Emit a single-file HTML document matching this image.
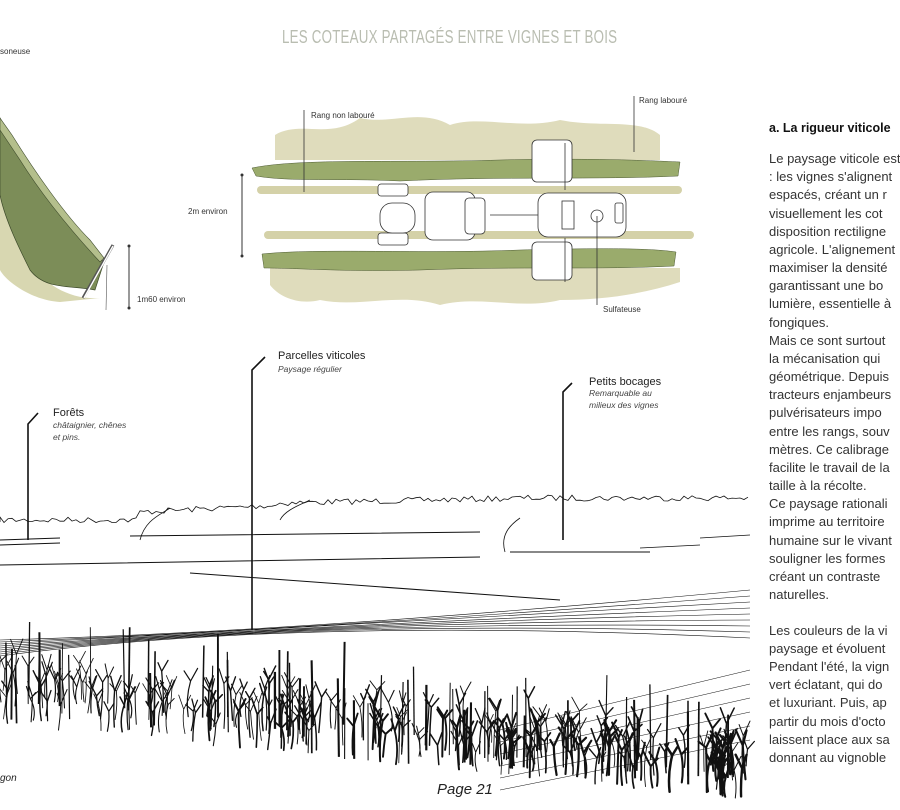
<!DOCTYPE html>
<html><head><meta charset="utf-8">
<style>
html,body{margin:0;padding:0;background:#fff;width:900px;height:810px;overflow:hidden;position:relative;font-family:"Liberation Sans",sans-serif}
.t{position:absolute;white-space:nowrap}
#txt{position:absolute;left:769px;top:0;width:131px;height:810px;overflow:hidden}
#txt div{position:absolute;left:0;font-size:13px;color:#333;white-space:nowrap}
.lab{font-size:8px;color:#333}
#landwrap{position:absolute;left:0;top:0;width:900px;height:810px}
</style></head><body>
<svg width="900" height="810" style="position:absolute;left:0;top:0">
<path d="M0,150 C10,190 20,230 30,262 C45,285 70,300 100,298 L60,302 C30,300 5,280 0,270Z" fill="#d8d7b1"/>
<path d="M0,118 L10,135 C30,170 60,215 85,245 L104,262 L95,290 C70,285 45,290 30,270 C20,250 5,220 0,195Z" fill="#7c8d58" stroke="#3d4a2a" stroke-width="0.7"/>
<path d="M0,118 L12,135 C35,172 65,215 90,240 L104,258 L100,262 C75,235 45,200 20,160 L0,130Z" fill="#b4bf8c" stroke="#3d4a2a" stroke-width="0.6"/>
<line x1="83" y1="298" x2="113" y2="245" stroke="#555" stroke-width="3"/>
<line x1="84" y1="298" x2="113" y2="246" stroke="#fff" stroke-width="1.4"/>
<line x1="107" y1="265" x2="106" y2="310" stroke="#555" stroke-width="0.6"/>
<line x1="129" y1="246" x2="129" y2="308" stroke="#333" stroke-width="1"/>
<circle cx="129" cy="246" r="1.5" fill="#333"/><circle cx="129" cy="308" r="1.5" fill="#333"/>
<path d="M275,135 C300,120 330,140 360,118 C390,125 420,108 450,125 C480,115 520,130 560,120 C600,128 640,118 660,135 L660,160 L275,160Z" fill="#dfdcbc"/>
<path d="M270,268 L680,268 L680,282 C640,295 600,300 560,300 C520,310 480,295 440,305 C400,292 360,308 320,300 C300,305 280,298 270,285Z" fill="#dfdcbc"/>
<path d="M252,168 C300,158 400,163 500,160 C580,158 640,160 680,162 L678,176 C600,180 500,176 400,181 C340,178 290,182 256,176Z" fill="#9aab6c" stroke="#4e5b35" stroke-width="0.5"/>
<path d="M262,254 C320,248 420,254 520,250 C600,248 650,248 676,252 L674,266 C600,270 520,266 420,270 C340,272 300,268 264,268Z" fill="#9aab6c" stroke="#4e5b35" stroke-width="0.5"/>
<rect x="257" y="186" width="425" height="8" rx="4" fill="#d4d1a8"/>
<rect x="264" y="231" width="430" height="8" rx="4" fill="#d4d1a8"/>
<g fill="#fff" stroke="#333" stroke-width="0.8">
<rect x="378" y="184" width="30" height="12" rx="3"/><rect x="378" y="233" width="30" height="12" rx="3"/>
<rect x="380" y="203" width="35" height="30" rx="12"/>
<rect x="425" y="192" width="50" height="48" rx="8"/>
<rect x="465" y="198" width="20" height="36" rx="4"/>
<line x1="490" y1="215" x2="540" y2="215"/>
<rect x="538" y="193" width="88" height="44" rx="10"/>
<rect x="562" y="201" width="12" height="28"/>
<circle cx="597" cy="216" r="6"/>
<rect x="615" y="203" width="8" height="20" rx="2"/>
<rect x="532" y="140" width="40" height="42" rx="5"/>
<rect x="532" y="242" width="40" height="38" rx="5"/>
<line x1="565" y1="143" x2="565" y2="190"/><line x1="565" y1="238" x2="565" y2="282"/>
</g>
<line x1="304" y1="110" x2="304" y2="192" stroke="#333" stroke-width="0.8"/>
<line x1="634" y1="96" x2="634" y2="152" stroke="#333" stroke-width="0.8"/>
<line x1="597" y1="216" x2="597" y2="305" stroke="#333" stroke-width="0.8"/>
<line x1="242" y1="175" x2="242" y2="256" stroke="#333" stroke-width="1"/>
<circle cx="242" cy="175" r="1.5" fill="#333"/><circle cx="242" cy="256" r="1.5" fill="#333"/>
<g stroke="#111" stroke-width="1.6" fill="none">
<polyline points="28,540 28,424 38,413"/>
<polyline points="252,630 252,370 265,357"/>
<polyline points="563,540 563,392 572,383"/>
</g>
</svg>
<div id="landwrap"></div>
<div class="t" style="left:282px;top:27px;font-size:18px;color:#b9bdb1;font-family:'Liberation Sans Narrow','Liberation Sans',sans-serif;transform:scaleX(0.74);transform-origin:0 0;letter-spacing:0.3px">LES COTEAUX PARTAGÉS ENTRE VIGNES ET BOIS</div>
<div class="t lab" style="left:0;top:47px">soneuse</div>
<div class="t lab" style="left:137px;top:295px">1m60 environ</div>
<div class="t lab" style="left:188px;top:207px">2m environ</div>
<div class="t lab" style="left:311px;top:111px">Rang non labouré</div>
<div class="t lab" style="left:639px;top:96px">Rang labouré</div>
<div class="t lab" style="left:603px;top:305px">Sulfateuse</div>
<div class="t" style="left:53px;top:407px;font-size:11px;color:#222">Forêts</div>
<div class="t" style="left:53px;top:419px;font-size:8.5px;font-style:italic;color:#444;line-height:12px">châtaignier, chênes<br>et pins.</div>
<div class="t" style="left:278px;top:350px;font-size:11px;color:#222">Parcelles viticoles</div>
<div class="t" style="left:278px;top:364px;font-size:8.5px;font-style:italic;color:#444">Paysage régulier</div>
<div class="t" style="left:589px;top:376px;font-size:11px;color:#222">Petits bocages</div>
<div class="t" style="left:589px;top:387px;font-size:8.5px;font-style:italic;color:#444;line-height:12px">Remarquable au<br>milieux des vignes</div>
<div class="t" style="left:0;top:773px;font-size:10px;font-style:italic;color:#222">gon</div>
<div class="t" style="left:437px;top:781px;font-size:15px;font-style:italic;color:#222;background:#fff">Page 21</div>
<div id="txt"></div>
<script>
var L1=["Le paysage viticole est",": les vignes s'alignent","espacés, créant un r","visuellement les cot","disposition rectiligne","agricole. L'alignement","maximiser la densité","garantissant une bo","lumière, essentielle à","fongiques.","Mais ce sont surtout","la mécanisation qui","géométrique. Depuis","tracteurs enjambeurs","pulvérisateurs impo","entre les rangs, souv","mètres. Ce calibrage","facilite le travail de la","taille à la récolte.","Ce paysage rationali","imprime au territoire","humaine sur le vivant","souligner les formes","créant un contraste","naturelles."];
var L2=["Les couleurs de la vi","paysage et évoluent","Pendant l'été, la vign","vert éclatant, qui do","et luxuriant. Puis, ap","partir du mois d'octo","laissent place aux sa","donnant au vignoble"];
var T=document.getElementById('txt'),h='<div style="top:121px;font-weight:bold;font-size:12.5px;color:#111">a. La rigueur viticole</div>';
for(var i=0;i<L1.length;i++){h+='<div style="top:'+(151+i*18.17)+'px">'+L1[i]+'</div>';}
for(var i=0;i<L2.length;i++){h+='<div style="top:'+(623+i*18.1)+'px">'+L2[i]+'</div>';}
T.innerHTML=h;
</script>
<script>
(function(){
var s='',seed=7;
function r(){seed=(seed*16807)%2147483647;return seed/2147483647;}
function f(v){return v.toFixed(1);}
var d='M0,522';
for(var x=0;x<=750;x+=4){var y=x<140?520:(x<280?512-(x-140)*0.05:(x<520?503-(x-280)*0.02:498));d+=' L'+x+','+f(y+r()*6-3);}
s+='<path d="'+d+'" stroke-width="0.8"/>';
s+='<path d="M140,540 C145,520 160,515 170,508 M280,520 C285,510 300,505 310,500 M505,552 C500,535 510,525 520,518 M640,548 L700,545 M700,538 L750,535" stroke-width="0.8"/>';
s+='<path d="M0,540 L60,538 M130,536 L480,532 M0,545 L60,543 M510,552 L650,552 M0,565 L480,557 M190,573 L560,600" stroke-width="1"/>';
for(var k=0;k<9;k++){s+='<path d="M0,'+(640+k*2)+' Q300,'+(632-k*2)+' 750,'+(590+k*6)+'" stroke-width="0.6"/>';}
for(var k=0;k<6;k++){s+='<path d="M500,'+(730+k*12)+' L750,'+(670+k*14)+'" stroke-width="0.5"/>';}
for(var i=0;i<300;i++){
var x=r()*750;
var base=690+(x/750)*75+r()*35;
var hgt=35+r()*35;
var top=base-hgt;
if(top<630)top=630+r()*10;
var w=0.8+r()*1.8*(base-680)/110;
if(r()<0.2){s+='<line x1="'+f(x)+'" y1="'+f(top-15)+'" x2="'+f(x+r()*3-1.5)+'" y2="'+f(base)+'" stroke-width="'+f(0.8+r()*1.5)+'"/>';}
else{
var ym=top+hgt*(0.3+r()*0.3),xm=x+r()*6-3;
s+='<path d="M'+f(x)+','+f(base)+' Q'+f(x+r()*6-3)+','+f((base+ym)/2)+' '+f(xm)+','+f(ym)+' l'+f(-3-r()*5)+','+f(-6-r()*10)+' M'+f(xm)+','+f(ym)+' l'+f(3+r()*5)+','+f(-6-r()*10)+'" stroke-width="'+f(w)+'" stroke-linecap="round"/>';
}
}
document.getElementById('landwrap').innerHTML='<svg width="900" height="810" xmlns="http://www.w3.org/2000/svg"><g stroke="#111" fill="none" stroke-width="1">'+s+'</g></svg>';
})();
</script>
</body></html>
